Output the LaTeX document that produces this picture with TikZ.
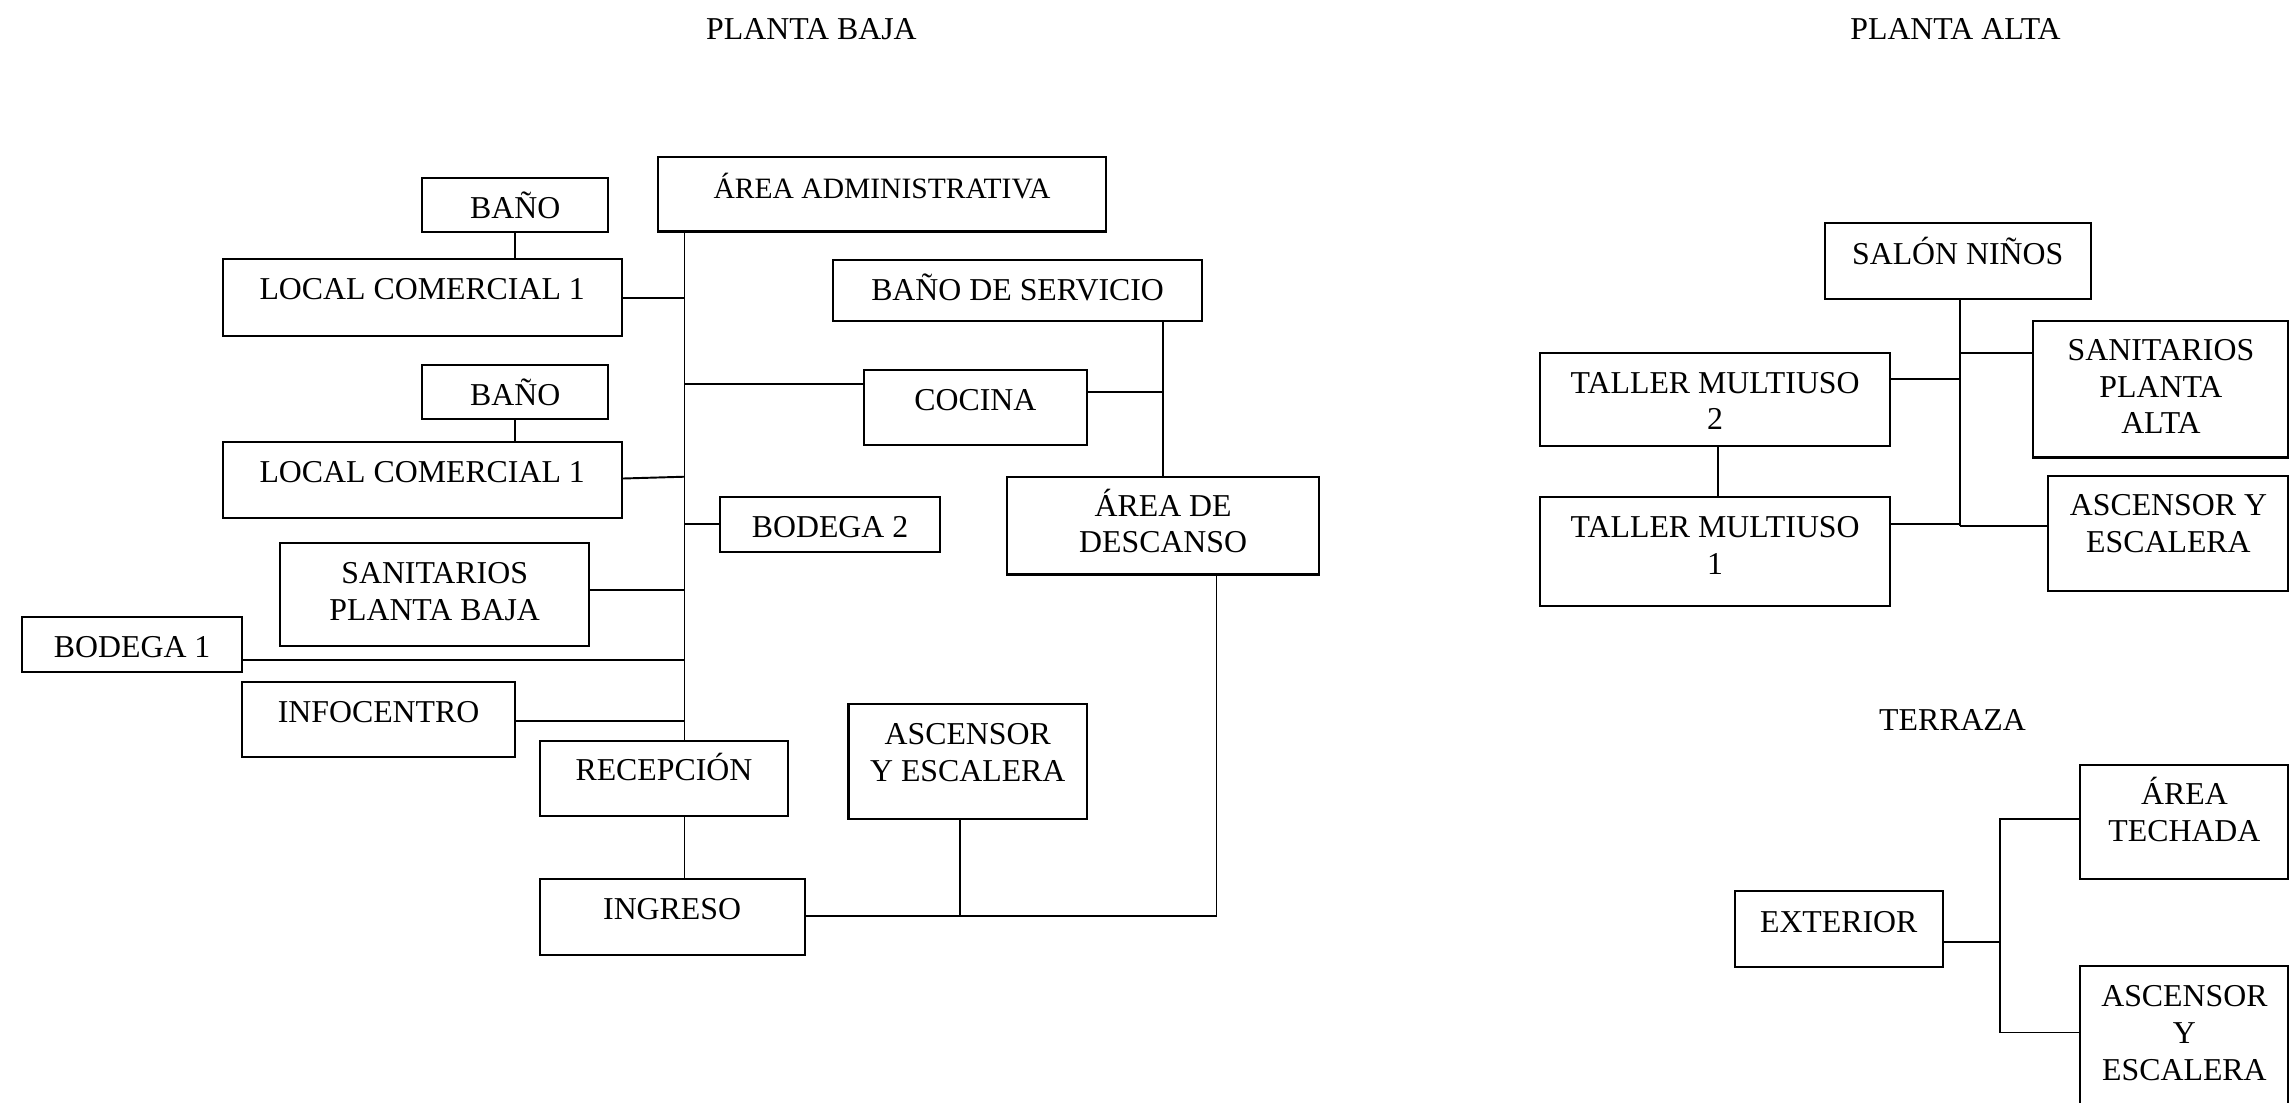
\documentclass[tikz,border=0pt]{standalone}
\usepackage{fontspec}
\setmainfont{Liberation Serif}
\usetikzlibrary{fit}
\newcommand\tb[1]{\begin{tabular}[t]{@{}c@{}}#1\end{tabular}}
\newcommand\bx[7][0.415cm]{%
  \node[box, fit={(#3,#4) (#5,#6)}] (#2) {};
  \node[txt, anchor=base] (#2-t) at ([yshift=-#1]#2.north) {\tb{#7}};}
\begin{document}
\begin{tikzpicture}[x=0.01cm, y=-0.01cm,
  box/.style={draw, inner sep=0pt, line width=0.6pt},
  txt/.style={inner sep=0pt, font=\fontsize{9.05pt}{10.44pt}\selectfont},
  small/.style={font=\fontsize{8.4pt}{10pt}\selectfont},
  link/.style={line width=0.55pt}]
\clip (0,0) rectangle (2289,1102);
\fill[white] (0,0) rectangle (2289,1102);
% titles
\node[txt, anchor=base] (tbaja) at (811.4,39.5) {PLANTA BAJA};
\node[txt, anchor=base] (talta) at (1955.5,39.5) {PLANTA ALTA};
\node[txt, anchor=base] (tterr) at (1952.5,730) {TERRAZA};
% planta baja boxes
\bx{bano1}{422.3}{177.7}{608}{232.3}{BAÑO}
\bx{loc1}{222.7}{259.3}{621.7}{336}{LOCAL COMERCIAL 1}
\bx{bano2}{422.3}{364.7}{608}{419.3}{BAÑO}
\bx{loc2}{222.7}{442}{621.7}{517.7}{LOCAL COMERCIAL 1}
\bx{sanpb}{280}{543.3}{589.3}{645.7}{SANITARIOS\\PLANTA BAJA}
\bx{bod1}{21.9}{617.3}{242.4}{672.3}{BODEGA 1}
\bx{info}{242}{682}{515.2}{757.3}{INFOCENTRO}
\node[box, fit={(658.3,156.7) (1105.7,231.5)}] (admin) {};
\node[txt, small, anchor=base] (admin-t) at ([yshift=-0.43cm]admin.north) {ÁREA ADMINISTRATIVA};
\bx{banoserv}{833.3}{260}{1201.9}{321}{BAÑO DE SERVICIO}
\bx{cocina}{863.7}{370}{1087}{445.3}{COCINA}
\bx[0.405cm]{desc}{1007.3}{476.7}{1319}{574.5}{ÁREA DE\\DESCANSO}
\bx{bod2}{720}{496.7}{940.1}{552}{BODEGA 2}
\bx[0.405cm]{recep}{539.6}{741}{788.3}{816.3}{RECEPCIÓN}
\bx[0.41cm]{asc1}{848.5}{704.3}{1087}{819}{ASCENSOR\\Y ESCALERA}
\bx{ingreso}{539.6}{879.3}{804.6}{955}{INGRESO}
% planta alta boxes
\bx[0.425cm]{salon}{1824.6}{223.3}{2090.8}{299}{SALÓN NIÑOS}
\bx[0.408cm]{sanpa}{2033.3}{320.7}{2288.5}{457.5}{SANITARIOS\\PLANTA\\ALTA}
\bx{tal2}{1540.3}{352.7}{1890}{445.7}{TALLER MULTIUSO\\2}
\bx{tal1}{1540.3}{497}{1890}{606}{TALLER MULTIUSO\\1}
\bx[0.408cm]{asc2}{2048.3}{475.7}{2288.5}{591}{ASCENSOR Y\\ESCALERA}
% terraza boxes
\bx[0.408cm]{techada}{2080.3}{765}{2288.5}{879.3}{ÁREA\\TECHADA}
\bx[0.425cm]{exterior}{1734.8}{890.7}{1942.6}{966.7}{EXTERIOR}
\bx[0.42cm]{asc3}{2080.3}{966}{2288.5}{1130}{ASCENSOR\\Y\\ESCALERA}
% planta baja connectors
\coordinate (spx) at (684.5,0);
\coordinate (c1) at (1216.5,915.7);
\draw[link] (bano1.south) -- (bano1.south |- loc1.north);
\draw[link] (bano2.south) -- (bano2.south |- loc2.north);
\draw[link] (spx |- admin.south) -- (spx |- recep.north);
\draw[link] (spx |- recep.south) -- (spx |- ingreso.north);
\draw[link] (loc1.east) -- (loc1.east -| spx);
\draw[link] (loc2.east |- 0,478.5) -- (spx |- 0,476.7);
\draw[link] (spx |- 0,383.7) -- (cocina.west |- 0,383.7);
\draw[link] (bod2.west) -- (bod2.west -| spx);
\draw[link] (sanpb.east |- 0,590) -- (spx |- 0,590);
\draw[link] (bod1.east |- 0,660.3) -- (spx |- 0,660.3);
\draw[link] (info.east |- 0,721) -- (spx |- 0,721);
\draw[link] (desc.north) -- (desc.north |- banoserv.south);
\draw[link] (cocina.east |- 0,392) -- (desc.north |- 0,392);
\draw[link] (ingreso.east |- c1) -- (c1) -- (c1 |- desc.south);
\draw[link] (960.2,0 |- asc1.south) -- (960.2,0 |- c1);
% planta alta connectors
\coordinate (spy) at (1959.5,0);
\draw[link] (spy |- salon.south) -- (spy |- 0,525.7);
\draw[link] (spy |- 0,352.7) -- (sanpa.west |- 0,352.7);
\draw[link] (tal2.east |- 0,379) -- (spy |- 0,379);
\draw[link] (tal1.east |- 0,524) -- (spy |- 0,524);
\draw[link] (spy |- 0,525.7) -- (asc2.west |- 0,525.7);
\draw[link] (1718,0 |- tal2.south) -- (1718,0 |- tal1.north);
% terraza connectors
\coordinate (tx) at (2000.4,0);
\draw[link] (exterior.east |- 0,942) -- (tx |- 0,942);
\draw[link] (techada.west |- 0,819) -- (tx |- 0,819) -- (tx |- 0,1032.5) -- (asc3.west |- 0,1032.5);
\end{tikzpicture}
\end{document}
